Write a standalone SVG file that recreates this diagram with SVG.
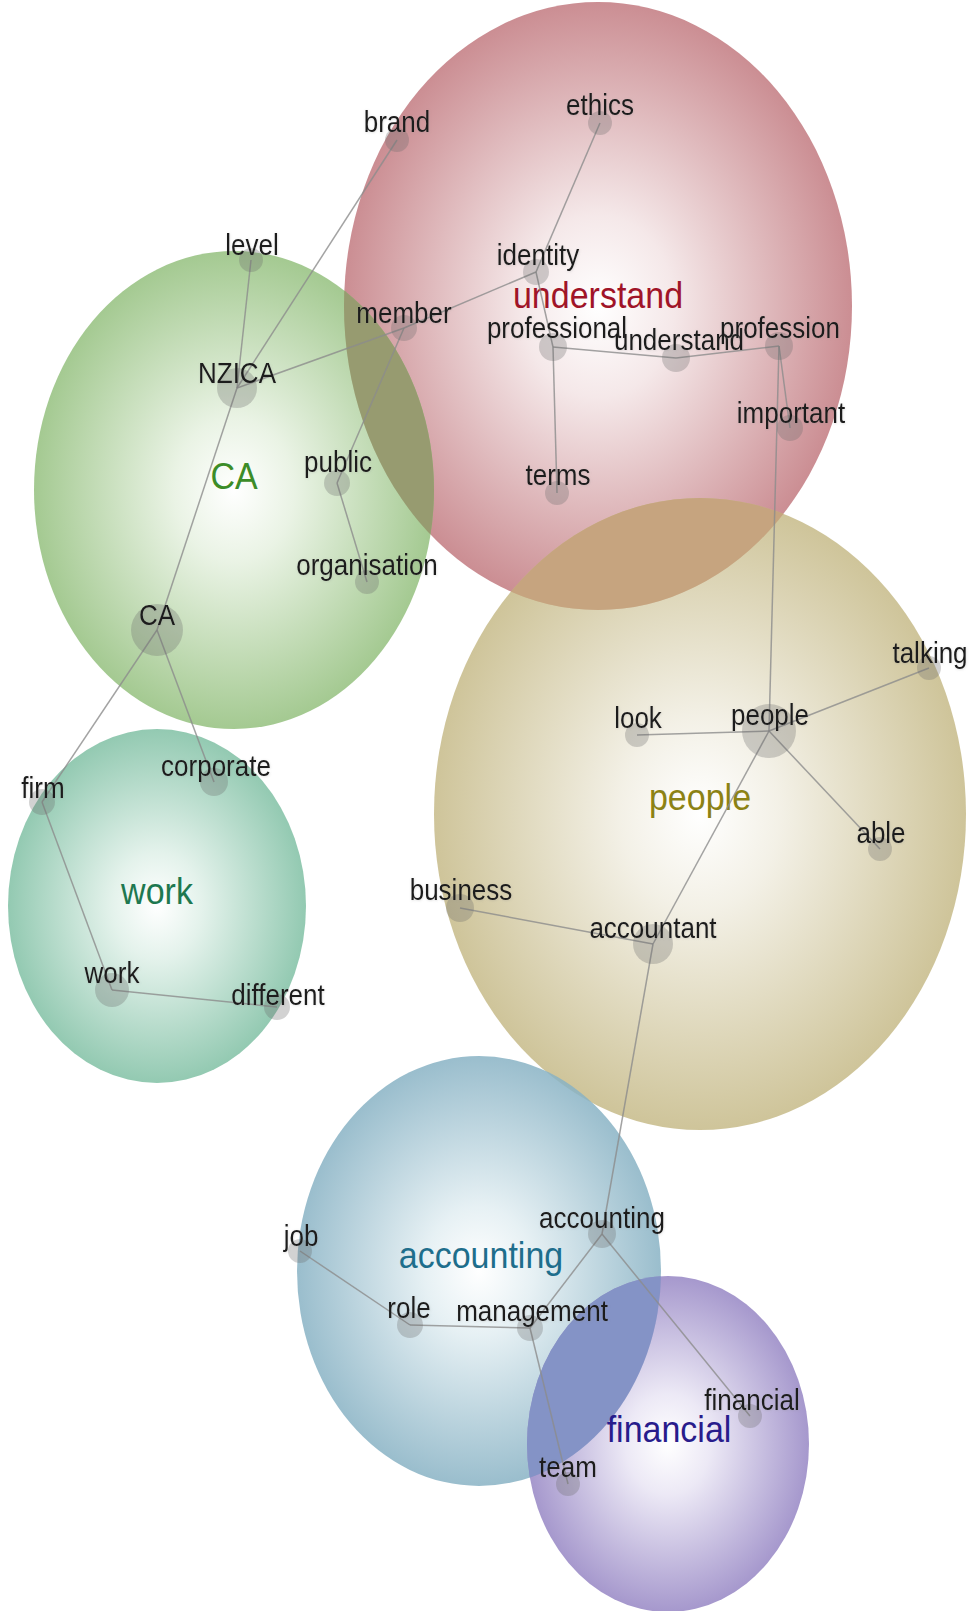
<svg xmlns="http://www.w3.org/2000/svg" width="973" height="1611" viewBox="0 0 973 1611">
<style>
.lbl{font-family:"Liberation Sans",Arial,sans-serif;font-size:26px;fill:#1a1a1a;text-anchor:middle;filter:url(#sh)}
.thm{font-family:"Liberation Sans",Arial,sans-serif;font-size:34px;text-anchor:middle}
.dot{fill:#6a6a6a;fill-opacity:0.3}
.edge line{stroke:#8c8c8c;stroke-width:1.5;stroke-opacity:0.8}
.th{fill-opacity:0.85}
</style>
<defs>
<filter id="sh" x="-10%" y="-30%" width="120%" height="160%"><feDropShadow dx="0.4" dy="0.6" stdDeviation="1.2" flood-color="#888888" flood-opacity="0.3"/></filter>
<radialGradient id="gRed" cx="0.5" cy="0.5" r="0.5"><stop offset="0" stop-color="#ffffff"/><stop offset="0.3" stop-color="#f3e4e5"/><stop offset="1" stop-color="#c27a80"/></radialGradient>
<radialGradient id="gGreen" cx="0.5" cy="0.5" r="0.5"><stop offset="0" stop-color="#ffffff"/><stop offset="0.3" stop-color="#e6f1e0"/><stop offset="1" stop-color="#94c07e"/></radialGradient>
<radialGradient id="gTeal" cx="0.5" cy="0.5" r="0.5"><stop offset="0" stop-color="#ffffff"/><stop offset="0.3" stop-color="#dff0e8"/><stop offset="1" stop-color="#80c0a4"/></radialGradient>
<radialGradient id="gTan" cx="0.5" cy="0.5" r="0.5"><stop offset="0" stop-color="#ffffff"/><stop offset="0.3" stop-color="#f1eee2"/><stop offset="1" stop-color="#c6ba88"/></radialGradient>
<radialGradient id="gBlue" cx="0.5" cy="0.5" r="0.5"><stop offset="0" stop-color="#ffffff"/><stop offset="0.3" stop-color="#e2eef2"/><stop offset="1" stop-color="#88b2c4"/></radialGradient>
<radialGradient id="gPurple" cx="0.5" cy="0.5" r="0.5"><stop offset="0" stop-color="#ffffff"/><stop offset="0.3" stop-color="#e9e5f4"/><stop offset="1" stop-color="#9686c4"/></radialGradient>
<clipPath id="cRed"><ellipse cx="598" cy="306" rx="254" ry="304"/></clipPath>
<clipPath id="cBlue"><ellipse cx="479" cy="1271" rx="182" ry="215"/></clipPath>
</defs>
<rect width="973" height="1611" fill="#ffffff"/>

<g id="theme-understand"><ellipse class="th" cx="598" cy="306" rx="254" ry="304" fill="url(#gRed)"/></g>
<g id="theme-CA"><ellipse class="th" cx="234" cy="490" rx="200" ry="239" fill="url(#gGreen)"/></g>
<g id="theme-work"><ellipse class="th" cx="157" cy="906" rx="149" ry="177" fill="url(#gTeal)"/></g>
<g id="theme-people"><ellipse class="th" cx="700" cy="814" rx="266" ry="316" fill="url(#gTan)"/></g>
<g id="theme-accounting"><ellipse class="th" cx="479" cy="1271" rx="182" ry="215" fill="url(#gBlue)"/></g>
<g id="theme-financial"><ellipse class="th" cx="668" cy="1444" rx="141" ry="168" fill="url(#gPurple)"/></g>
<g id="overlaps">
<ellipse cx="234" cy="490" rx="200" ry="239" fill="#979b70" clip-path="url(#cRed)"/>
<ellipse cx="700" cy="814" rx="266" ry="316" fill="#c6a47f" clip-path="url(#cRed)"/>
<ellipse cx="668" cy="1444" rx="141" ry="168" fill="#8493c6" clip-path="url(#cBlue)"/>
</g>
<g id="theme-labels">
<text class="thm" transform="translate(598,308) scale(1,1.1)" fill="#a01428">understand</text>
<text class="thm" transform="translate(234,489) scale(1,1.1)" fill="#3c8c28">CA</text>
<text class="thm" transform="translate(157,904) scale(1,1.1)" fill="#1e7850">work</text>
<text class="thm" transform="translate(700,810) scale(1,1.1)" fill="#8c8214">people</text>
<text class="thm" transform="translate(481,1268) scale(1,1.1)" fill="#1e6e8c">accounting</text>
<text class="thm" transform="translate(669,1442) scale(1,1.1)" fill="#281c8c">financial</text>
</g>

<g id="connectors" class="edge">
<line x1="397" y1="140" x2="237" y2="388"/>
<line x1="251" y1="260" x2="237" y2="388"/>
<line x1="237" y1="388" x2="404" y2="328"/>
<line x1="404" y1="328" x2="536" y2="272"/>
<line x1="536" y1="272" x2="600" y2="123"/>
<line x1="536" y1="272" x2="553" y2="347"/>
<line x1="553" y1="347" x2="676" y2="358"/>
<line x1="676" y1="358" x2="779" y2="346"/>
<line x1="553" y1="347" x2="557" y2="493"/>
<line x1="779" y1="346" x2="790" y2="428"/>
<line x1="779" y1="346" x2="769" y2="731"/>
<line x1="404" y1="328" x2="337" y2="483"/>
<line x1="337" y1="483" x2="367" y2="582"/>
<line x1="237" y1="388" x2="157" y2="630"/>
<line x1="157" y1="630" x2="42" y2="802"/>
<line x1="157" y1="630" x2="214" y2="782"/>
<line x1="42" y1="802" x2="112" y2="990"/>
<line x1="112" y1="990" x2="277" y2="1007"/>
<line x1="769" y1="731" x2="637" y2="735"/>
<line x1="769" y1="731" x2="929" y2="668"/>
<line x1="769" y1="731" x2="880" y2="849"/>
<line x1="769" y1="731" x2="653" y2="944"/>
<line x1="653" y1="944" x2="460" y2="908"/>
<line x1="653" y1="944" x2="602" y2="1234"/>
<line x1="602" y1="1234" x2="530" y2="1328"/>
<line x1="602" y1="1234" x2="750" y2="1416"/>
<line x1="530" y1="1328" x2="410" y2="1325"/>
<line x1="410" y1="1325" x2="300" y2="1251"/>
<line x1="530" y1="1328" x2="568" y2="1484"/>
</g>

<g id="n-brand"><circle class="dot" cx="397" cy="140" r="12"/><text class="lbl" transform="translate(397,132) scale(1,1.1)">brand</text></g>
<g id="n-ethics"><circle class="dot" cx="600" cy="123" r="12"/><text class="lbl" transform="translate(600,115) scale(1,1.1)">ethics</text></g>
<g id="n-level"><circle class="dot" cx="251" cy="260" r="12"/><text class="lbl" transform="translate(252,255) scale(1,1.1)">level</text></g>
<g id="n-identity"><circle class="dot" cx="536" cy="272" r="13"/><text class="lbl" transform="translate(538,265) scale(1,1.1)">identity</text></g>
<g id="n-member"><circle class="dot" cx="404" cy="328" r="13"/><text class="lbl" transform="translate(404,323) scale(1,1.1)">member</text></g>
<g id="n-NZICA"><circle class="dot" cx="237" cy="388" r="20"/><text class="lbl" transform="translate(237,383) scale(1,1.1)">NZICA</text></g>
<g id="n-professional"><circle class="dot" cx="553" cy="347" r="14"/><text class="lbl" transform="translate(557,338) scale(1,1.1)">professional</text></g>
<g id="n-understand"><circle class="dot" cx="676" cy="358" r="14"/><text class="lbl" transform="translate(679,350) scale(1,1.1)">understand</text></g>
<g id="n-profession"><circle class="dot" cx="779" cy="346" r="14"/><text class="lbl" transform="translate(780,338) scale(1,1.1)">profession</text></g>
<g id="n-important"><circle class="dot" cx="790" cy="428" r="13"/><text class="lbl" transform="translate(791,423) scale(1,1.1)">important</text></g>
<g id="n-terms"><circle class="dot" cx="557" cy="493" r="12"/><text class="lbl" transform="translate(558,485) scale(1,1.1)">terms</text></g>
<g id="n-public"><circle class="dot" cx="337" cy="483" r="13"/><text class="lbl" transform="translate(338,472) scale(1,1.1)">public</text></g>
<g id="n-organisation"><circle class="dot" cx="367" cy="582" r="12"/><text class="lbl" transform="translate(367,575) scale(1,1.1)">organisation</text></g>
<g id="n-CA"><circle class="dot" cx="157" cy="630" r="26"/><text class="lbl" transform="translate(157,625) scale(1,1.1)">CA</text></g>
<g id="n-corporate"><circle class="dot" cx="214" cy="782" r="14"/><text class="lbl" transform="translate(216,776) scale(1,1.1)">corporate</text></g>
<g id="n-firm"><circle class="dot" cx="42" cy="802" r="13"/><text class="lbl" transform="translate(43,798) scale(1,1.1)">firm</text></g>
<g id="n-work"><circle class="dot" cx="112" cy="990" r="17"/><text class="lbl" transform="translate(112,983) scale(1,1.1)">work</text></g>
<g id="n-different"><circle class="dot" cx="277" cy="1007" r="13"/><text class="lbl" transform="translate(278,1005) scale(1,1.1)">different</text></g>
<g id="n-talking"><circle class="dot" cx="929" cy="668" r="12"/><text class="lbl" transform="translate(930,663) scale(1,1.1)">talking</text></g>
<g id="n-people"><circle class="dot" cx="769" cy="731" r="27"/><text class="lbl" transform="translate(770,725) scale(1,1.1)">people</text></g>
<g id="n-look"><circle class="dot" cx="637" cy="735" r="12"/><text class="lbl" transform="translate(638,728) scale(1,1.1)">look</text></g>
<g id="n-able"><circle class="dot" cx="880" cy="849" r="12"/><text class="lbl" transform="translate(881,843) scale(1,1.1)">able</text></g>
<g id="n-business"><circle class="dot" cx="460" cy="908" r="14"/><text class="lbl" transform="translate(461,900) scale(1,1.1)">business</text></g>
<g id="n-accountant"><circle class="dot" cx="653" cy="944" r="20"/><text class="lbl" transform="translate(653,938) scale(1,1.1)">accountant</text></g>
<g id="n-accounting"><circle class="dot" cx="602" cy="1234" r="14"/><text class="lbl" transform="translate(602,1228) scale(1,1.1)">accounting</text></g>
<g id="n-job"><circle class="dot" cx="300" cy="1251" r="12"/><text class="lbl" transform="translate(301,1246) scale(1,1.1)">job</text></g>
<g id="n-role"><circle class="dot" cx="410" cy="1325" r="13"/><text class="lbl" transform="translate(409,1318) scale(1,1.1)">role</text></g>
<g id="n-management"><circle class="dot" cx="530" cy="1328" r="13"/><text class="lbl" transform="translate(532,1321) scale(1,1.1)">management</text></g>
<g id="n-financial"><circle class="dot" cx="750" cy="1416" r="12"/><text class="lbl" transform="translate(752,1410) scale(1,1.1)">financial</text></g>
<g id="n-team"><circle class="dot" cx="568" cy="1484" r="12"/><text class="lbl" transform="translate(568,1477) scale(1,1.1)">team</text></g>
</svg>
